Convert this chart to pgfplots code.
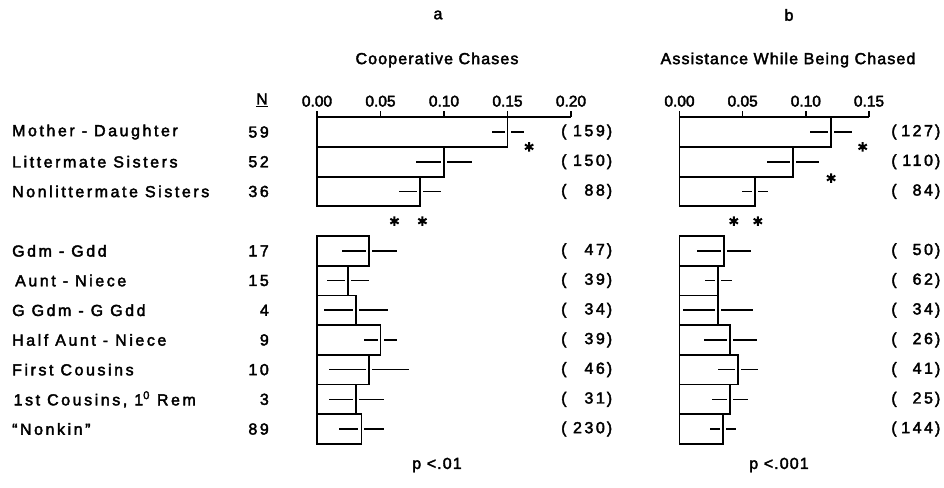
\documentclass[border=0pt]{standalone}
\usepackage{pgfplots}
\pgfplotsset{compat=1.18}
\usepackage{pgfplotstable}
\usepackage{fontspec}
\setmainfont{Liberation Sans}[FakeBold=2.5]
\newfontfamily\labfont{Liberation Sans}[LetterSpace=16,FakeBold=2.5]
\newfontfamily\titfont{Liberation Sans}[LetterSpace=7,FakeBold=2.5]
\newfontfamily\tickfont{Liberation Sans}[FakeBold=2.5]
\protected\def\sup#1{\textsuperscript{#1}}

\pgfplotstableread{
r v e
0 0.150 0.0126
1 0.100 0.0217
2 0.081 0.0165
4 0.041 0.0217
5 0.0244 0.0165
6 0.0307 0.025
7 0.050 0.013
8 0.041 0.0315
9 0.031 0.0217
10 0.035 0.018
}\dataA

\pgfplotstableread{
r v e
0 0.120 0.0166
1 0.0899 0.0206
2 0.0598 0.0103
4 0.0352 0.021
5 0.0305 0.0107
6 0.0305 0.028
7 0.040 0.021
8 0.0463 0.016
9 0.040 0.0143
10 0.0344 0.0103
}\dataB

\begin{document}
\begin{tikzpicture}[x=1pt,y=1pt]
\useasboundingbox (0,0) rectangle (944,487);
\pgfplotsset{
  panel/.style={
    scale only axis, height=326.7pt,
    xmin=0, ymin=-0.5, ymax=10.5, y dir=reverse,
    axis x line=top, axis y line=none, axis on top,
    x axis line style={-, line width=1.6pt},
    every tick/.style={line width=1.6pt, black},
    major tick length=6pt, tick align=outside,
    xticklabel style={font=\tickfont\fontsize{15.5}{18}\selectfont, yshift=1pt},
    clip=false,
  },
  errs/.style={xbar, bar width=1, draw=none, fill=none,
     error bars/.cd, x dir=both, x explicit, error mark=none,
     error bar style={draw=black, line width=1.6pt}},
  halo/.style={xbar, bar width=1, draw=white, fill=none, line width=6pt},
  bars/.style={xbar, bar width=1, draw=black, fill=none, line width=1.8pt},
  txt/.style={only marks, mark=none, point meta=explicit symbolic,
     every node near coord/.append style={anchor=#1, inner sep=0pt,
       font=\labfont\fontsize{16}{19}\selectfont}},
}
\begin{axis}[panel, width=254pt, xmax=0.20, at={(317pt,43.1pt)}, anchor=south west,
  xtick={0,0.05,0.10,0.15,0.20}, xticklabels={0.00,0.05,0.10,0.15,0.20}]
\addplot[errs] table[y=r, x=v, x error=e]{\dataA};
\addplot[halo] table[y=r, x=v]{\dataA};
\addplot[bars] table[y=r, x=v]{\dataA};
\addplot[only marks, mark=asterisk, mark size=4.8pt, line width=2pt]
  coordinates {(0.167,0.5) (0.061,3) (0.083,3)};
\addplot[txt=west, nodes near coords] coordinates {
 (-0.2402,0) [Mother - Daughter]
 (-0.2402,1) [Littermate Sisters]
 (-0.2402,2) [Nonlittermate Sisters]
 (-0.2402,4) [Gdm - Gdd]
 (-0.2378,5) [Aunt - Niece]
 (-0.2402,6) [G Gdm - G Gdd]
 (-0.2402,7) [Half Aunt - Niece]
 (-0.2402,8) [First Cousins]
 (-0.2390,9) [1st Cousins, 1\sup{0} Rem]
 (-0.2402,10) [“Nonkin”]
};
\addplot[txt=east, nodes near coords] coordinates {
 (-0.0378,0) [59] (-0.0378,1) [52] (-0.0378,2) [36] (-0.0378,4) [17]
 (-0.0378,5) [15] (-0.0378,6) [4] (-0.0378,7) [9] (-0.0378,8) [10]
 (-0.0378,9) [3] (-0.0378,10) [89]
};
\addplot[txt=west, nodes near coords={\makebox[51pt]{(\hfill\pgfplotspointmeta\hspace{2pt})}}] coordinates {
 (0.1921,0) [159] (0.1921,1) [150] (0.1921,2) [88] (0.1921,4) [47]
 (0.1921,5) [39] (0.1921,6) [34] (0.1921,7) [39] (0.1921,8) [46]
 (0.1921,9) [31] (0.1921,10) [230]
};
\end{axis}
\begin{axis}[panel, width=189.5pt, xmax=0.15, at={(679.5pt,43.1pt)}, anchor=south west,
  xtick={0,0.05,0.10,0.15}, xticklabels={0.00,0.05,0.10,0.15}]
\addplot[errs] table[y=r, x=v, x error=e]{\dataB};
\addplot[halo] table[y=r, x=v]{\dataB};
\addplot[bars] table[y=r, x=v]{\dataB};
\addplot[only marks, mark=asterisk, mark size=4.8pt, line width=2pt]
  coordinates {(0.145,0.5) (0.120,1.55) (0.043,3) (0.062,3)};
\addplot[txt=west, nodes near coords={\makebox[49pt]{(\hfill\pgfplotspointmeta\hspace{2pt})}}] coordinates {
 (0.1675,0) [127] (0.1675,1) [110] (0.1675,2) [84] (0.1675,4) [50]
 (0.1675,5) [62] (0.1675,6) [34] (0.1675,7) [26] (0.1675,8) [41]
 (0.1675,9) [25] (0.1675,10) [144]
};
\end{axis}
\begin{scope}[every node/.style={font=\titfont\fontsize{16}{19}\selectfont, inner sep=0pt}]
\node at (438,472) {a};
\node at (789,472) {b};
\node at (437,427) {Cooperative Chases};
\node at (788,427) {Assistance While Being Chased};
\node at (262,387) {\underline{N}};
\node at (437,22) {p <.01};
\node at (779,22) {p <.001};
\end{scope}
\end{tikzpicture}
\end{document}
